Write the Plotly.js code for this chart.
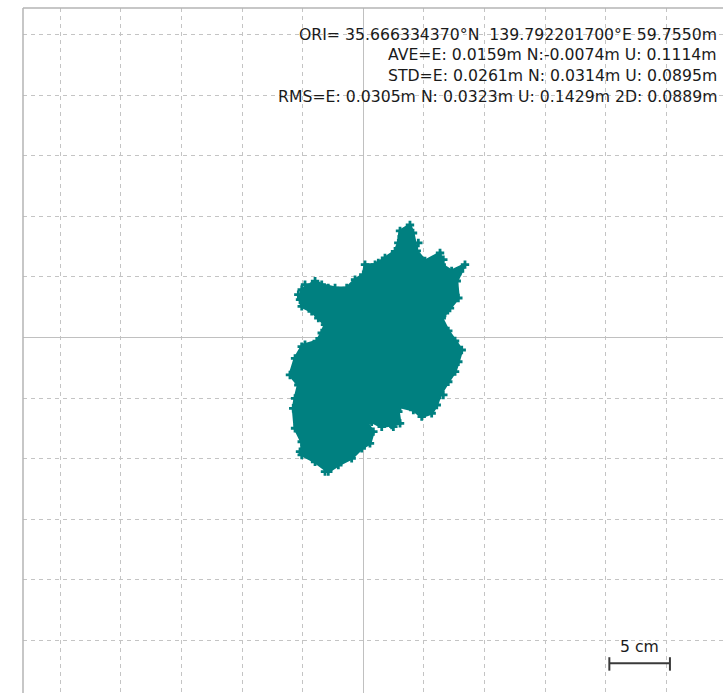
<!DOCTYPE html>
<html>
<head>
<meta charset="utf-8">
<script src="https://cdn.plot.ly/plotly-3.0.1.min.js"></script>
<style>
html,body{margin:0;padding:0;overflow:hidden;background:#fff;}
#chart{width:723px;height:693px;}
</style>
</head>
<body>
<div id="chart"></div>
<script>
// Outline of the solution cloud (E, N in metres)
const outlineE = [0.0385,0.0410,0.0441,0.0509,0.0633,0.0647,0.0729,0.0839,0.0771,0.0784,0.0715,0.0647,0.0701,0.0757,0.0812,0.0784,0.0757,0.0701,0.0633,0.0606,0.0564,0.0482,0.0413,0.0303,0.0289,0.0303,0.0234,0.0152,0.0069,0.0028,0.0083,0.0055,-0.0013,-0.0096,-0.0206,-0.0289,-0.0398,-0.0508,-0.0508,-0.0563,-0.0578,-0.0563,-0.0536,-0.0605,-0.0563,-0.0508,-0.0481,-0.0384,-0.0343,-0.0316,-0.0371,-0.0426,-0.0508,-0.0522,-0.0508,-0.0398,-0.0343,-0.0233,-0.0137,-0.0068,0.0000,0.0014,0.0097,0.0179,0.0262,0.0289,0.0303];
const outlineN = [0.0928,0.0862,0.0714,0.0631,0.0697,0.0601,0.0549,0.0601,0.0466,0.0326,0.0243,0.0161,0.0054,-0.0029,-0.0103,-0.0200,-0.0282,-0.0365,-0.0474,-0.0557,-0.0625,-0.0653,-0.0598,-0.0571,-0.0612,-0.0708,-0.0722,-0.0736,-0.0695,-0.0708,-0.0777,-0.0873,-0.0914,-0.0997,-0.1052,-0.1107,-0.1025,-0.0969,-0.0860,-0.0749,-0.0584,-0.0502,-0.0392,-0.0309,-0.0172,-0.0076,-0.0059,-0.0031,0.0037,0.0106,0.0161,0.0216,0.0257,0.0312,0.0394,0.0464,0.0436,0.0408,0.0408,0.0477,0.0518,0.0601,0.0601,0.0656,0.0711,0.0780,0.0879];
// Extra scattered edge solutions
const edgeE = [0.0317,0.0454,0.0660,0.0798,0.0729,0.0674,-0.0536,-0.0481,-0.0289,0.0124,-0.0522,-0.0316,0.0248,0.0660];
const edgeN = [0.0835,0.0780,0.0642,0.0546,0.0353,0.0202,0.0353,0.0436,0.0408,0.0615,-0.0942,-0.1107,-0.0736,-0.0474];

const textLines = [
  "ORI= 35.666334370°N  139.792201700°E 59.7550m",
  "AVE=E: 0.0159m N:-0.0074m U: 0.1114m",
  "STD=E: 0.0261m N: 0.0314m U: 0.0895m",
  "RMS=E: 0.0305m N: 0.0323m U: 0.1429m 2D: 0.0889m"
];
const scaleLen = 0.05;
const scaleLabel = "5 cm";

const teal = "#008080";
const traces = [
  {x: outlineE.concat([outlineE[0]]), y: outlineN.concat([outlineN[0]]), type: "scatter", mode: "lines",
   fill: "toself", fillcolor: teal, line: {color: teal, width: 3}, hoverinfo: "skip"},
  {x: outlineE, y: outlineN, type: "scatter", mode: "markers",
   marker: {symbol: "cross", size: 7, color: teal, line: {width: 0}}},
  {x: edgeE, y: edgeN, type: "scatter", mode: "markers",
   marker: {symbol: "cross", size: 7, color: teal, line: {width: 0}}}
];

const lineYs = [0.9613, 0.9314, 0.9015, 0.8715];
const annotations = textLines.map((t, i) => ({
  text: t, xref: "paper", yref: "paper", x: 0.9943, y: lineYs[i],
  xanchor: "right", yanchor: "middle", showarrow: false,
  font: {family: "DejaVu Sans", size: 15.7, color: "#1a1a1a"}
}));
const sx0 = 0.2030, sy = -0.2688;
annotations.push({text: scaleLabel, xref: "x", yref: "y", x: sx0 + scaleLen / 2, y: -0.2553,
  xanchor: "center", yanchor: "middle", showarrow: false,
  font: {family: "DejaVu Sans", size: 15.7, color: "#1a1a1a"}});

const shapes = [
  {type: "line", xref: "paper", yref: "paper", x0: 0, x1: 0, y0: 0, y1: 1, line: {color: "#b4b4b4", width: 1.5}},
  {type: "line", xref: "paper", yref: "paper", x0: 0, x1: 1, y0: 1, y1: 1, line: {color: "#b4b4b4", width: 1.5}},
  {type: "line", xref: "x", yref: "y", x0: sx0, x1: sx0 + scaleLen, y0: sy, y1: sy, line: {color: "#3a3a3a", width: 2}},
  {type: "line", xref: "x", yref: "y", x0: sx0, x1: sx0, y0: sy + 0.0050, y1: sy - 0.0061, line: {color: "#3a3a3a", width: 2}},
  {type: "line", xref: "x", yref: "y", x0: sx0 + scaleLen, x1: sx0 + scaleLen, y0: sy + 0.0050, y1: sy - 0.0061, line: {color: "#3a3a3a", width: 2}}
];

const axisCommon = {
  dtick: 0.05, tick0: 0, showticklabels: false, ticks: "",
  showgrid: true, gridcolor: "#c4c4c4", gridwidth: 1, griddash: "4px,4px",
  zeroline: true, zerolinecolor: "#c0c0c0", zerolinewidth: 1.5,
  showline: false, fixedrange: true
};

const layout = {
  width: 723, height: 693, autosize: false,
  margin: {l: 23, r: 0, t: 8, b: 0, pad: 0},
  paper_bgcolor: "#ffffff", plot_bgcolor: "#ffffff",
  showlegend: false,
  xaxis: Object.assign({}, axisCommon, {range: [-0.28077, 0.29678]}),
  yaxis: Object.assign({}, axisCommon, {range: [-0.29332, 0.27186]}),
  annotations: annotations,
  shapes: shapes
};

Plotly.newPlot("chart", traces, layout, {displayModeBar: false, staticPlot: true});
</script>
</body>
</html>
